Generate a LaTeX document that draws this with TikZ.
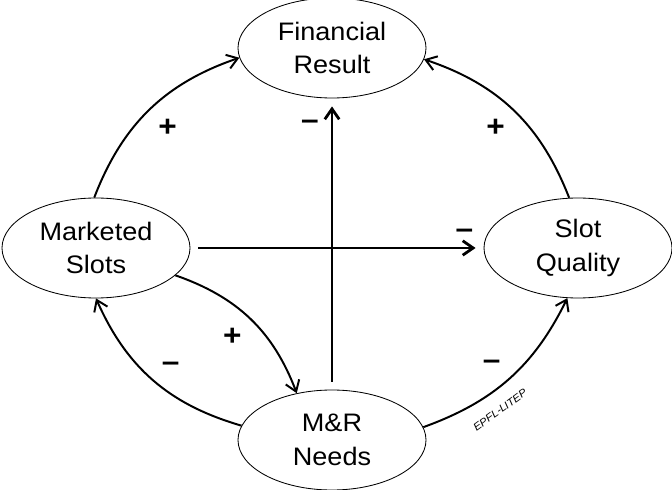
\documentclass[tikz,border=0pt]{standalone}
\usepackage{fontspec}
\setmainfont[FakeStretch=1.07]{Liberation Sans}
\usetikzlibrary{positioning,arrows.meta,shapes.geometric}
\tikzset{
    node distance=50mm, % gap between the rows
    factor/.style={ellipse, draw, line width=0.6pt, minimum width=47mm, minimum height=25mm,
        inner sep=0pt, align=center, font=\fontsize{18}{24}\selectfont},
    link/.style={-{Straight Barb[length=2.6mm,width=3.6mm]}, line width=1.4pt},
    axis/.style={link, line width=2pt, shorten <=2mm, shorten >=2mm},
    sign/.style={font=\bfseries\fontsize{21}{21}\selectfont, inner sep=2mm},
}

\begin{document}
\begin{tikzpicture}[on grid,auto]
   \useasboundingbox (0,0) rectangle (168mm,-122.5mm);
   \node[factor] (fin) at (83mm,-12mm) {Financial\\Result};
   \node[factor] (mkt) [below left=50mm and 59mm of fin] {Marketed\\Slots};
   \node[factor] (qual) [below right=50mm and 61.5mm of fin] {Slot\\Quality};
   \node[factor] (mr) [below=98mm of fin] {M\&R\\Needs};
    \path[link]
    (mkt.92) edge[bend left=25] node[sign,swap] {+} (fin.186)
    (qual.100) edge[bend right=25] node[sign] {+} (fin.-7)
    (mkt.-19) edge[bend left=25] node[sign,swap] {+} (mr.127)
    (mr.171) edge[bend left=25] node[sign,swap] {--} (mkt.south)
    (mr.8) edge[bend right=22] node[sign] {--} (qual.258);
   \draw[axis] (mkt.east) -- node[sign,pos=0.935] {--} (qual.west);
   \draw[axis] (mr.north) -- node[sign,pos=0.91,inner sep=3mm] {--} (fin.south);
   \node[rotate=36, font=\itshape\fontsize{7.5}{8}\selectfont] (credit) at (125mm,-102.5mm) {EPFL-LITEP};
\end{tikzpicture}
\end{document}
